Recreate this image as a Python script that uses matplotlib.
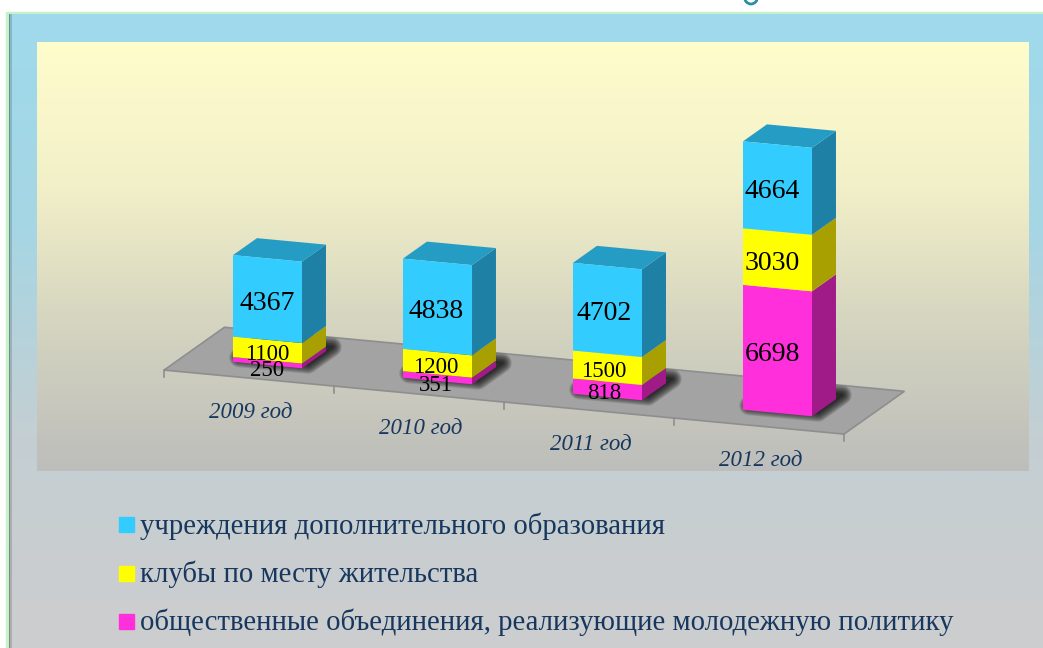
#!/usr/bin/env python3

import numpy as np
import matplotlib
matplotlib.use("Agg")
import matplotlib.pyplot as plt
from matplotlib.colors import LinearSegmentedColormap
from matplotlib.patches import Arc, Polygon, Rectangle
from matplotlib.transforms import Affine2D

years = ["2009 год", "2010 год", "2011 год", "2012 год"]
series_names = [
    "учреждения дополнительного образования",
    "клубы по месту жительства",
    "общественные объединения, реализующие молодежную политику",
]
education = [4367, 4838, 4702, 4664]
clubs = [1100, 1200, 1500, 3030]
associations = [250, 351, 818, 6698]

front_colors = ["#33CCFF", "#FFFF00", "#FF2FDC"]
side_colors = ["#1F80A5", "#A8A000", "#A01A88"]
top_color = "#259CC4"
text_color = "#17375E"

plt.rcParams["font.family"] = ["Liberation Serif", "DejaVu Serif"]

fig = plt.figure(figsize=(10.43, 6.48), dpi=100)
ax = fig.add_axes([0, 0, 1, 1])
ax.set_xlim(0, 1043)
ax.set_ylim(648, 0)
ax.axis("off")


def gradient(x0, x1, y0, y1, colors, z):
    cmap = LinearSegmentedColormap.from_list("g", colors)
    ax.imshow(np.linspace(0, 1, 256).reshape(-1, 1), cmap=cmap, aspect="auto",
              extent=(x0, x1, y1, y0), zorder=z, interpolation="bilinear")


# slide background and chart area
ax.add_patch(Rectangle((6, 12), 1037, 636, color="#C5F2C8", zorder=0))
gradient(9, 1043, 14, 648, ["#9FDAEC", "#A6D6E4", "#C4CFD3", "#CDCDCE"], 1)
ax.add_patch(Rectangle((9, 14), 1.2, 634, color="black", alpha=0.35, lw=0, zorder=1.5))
ax.add_patch(Rectangle((10.2, 14), 1.3, 634, color="black", alpha=0.15, lw=0, zorder=1.5))
gradient(37, 1029, 42, 471, ["#FFFDCC", "#F2F0C8", "#D4D4C0", "#BDBDBB"], 2)

# bottom of a letter cut off by the top edge of the slide
ax.add_patch(Arc((751, -3), 13, 14, theta1=0, theta2=180, color="#2E8CA8", lw=2, zorder=3))

# (category, value) to pixels, with a slanted floor
chart = Affine2D.from_values(170, 16, 0, -0.01865, 267.5, 365) + ax.transData
bar_w = 0.406
depth = np.array([0.141, 1032])


def shape(points, **kw):
    ax.add_patch(Polygon(points, closed=True, transform=chart, **kw))


# floor and its ticks
floor_front = np.array([[-0.5, 0], [3.5, 0]]) - 0.77 * depth
floor_back = np.array([[3.5, 0], [-0.5, 0]]) + 1.75 * depth
shape(np.vstack([floor_front, floor_back]), facecolor="#A3A3A3",
      edgecolor="#8E8E8E", linewidth=1.2, zorder=3)
for c in range(5):
    p = np.array([c - 0.5, 0]) - 0.77 * depth
    ax.plot([p[0], p[0]], [p[1], p[1] - 380], color="#8E8E8E", lw=1.2,
            transform=chart, zorder=3)

# soft shadows under the bars
for c in range(4):
    foot = np.array([[c - bar_w / 2, 0], [c + bar_w / 2, 0],
                     [c + bar_w / 2 + depth[0], depth[1]],
                     [c - bar_w / 2 + depth[0], depth[1]]]) + 0.25 * depth
    for lw in np.arange(14, 0, -1.5):
        shape(foot, facecolor="none", edgecolor="black", linewidth=lw,
              alpha=0.13, joinstyle="round", zorder=4)

# stacked bars, the last series of the legend sits at the bottom
stack_order = [2, 1, 0]
stack = [education, clubs, associations]
bottom = np.zeros(4)
for k in stack_order:
    vals = np.array(stack[k], dtype=float)
    ax.bar(range(4), vals, bottom=bottom, width=bar_w, color=front_colors[k],
           transform=chart, zorder=6)
    for c in range(4):
        r = c + bar_w / 2
        b0, b1 = bottom[c], bottom[c] + vals[c]
        shape([[r, b0], [r + depth[0], b0 + depth[1]],
               [r + depth[0], b1 + depth[1]], [r, b1]],
              facecolor=side_colors[k], edgecolor="none", zorder=5)
    bottom = bottom + vals
for c in range(4):
    l, r = c - bar_w / 2, c + bar_w / 2
    t = bottom[c]
    shape([[l, t], [r, t], [r + depth[0], t + depth[1]], [l + depth[0], t + depth[1]]],
          facecolor=top_color, edgecolor="none", zorder=5)

# value labels, the thinnest segments get theirs pushed down
bottom = np.zeros(4)
for k in stack_order:
    for c in range(4):
        v = stack[k][c]
        shift = 430 if v < 500 else 230
        ax.text(c * 0.99, bottom[c] + v / 2 - shift, str(v),
                transform=chart, ha="center", va="center",
                fontsize=16.5 if v < 2000 else 20, color="black", zorder=8)
    bottom = bottom + np.array(stack[k])

# category labels under the floor
for c in range(4):
    ax.text(c - 0.1, -2650, years[c], transform=chart, ha="center", va="center",
            fontsize=16.5, style="italic", color=text_color, zorder=8)

# legend
for k, row_y in enumerate([525, 573.5, 621.5]):
    ax.add_patch(Rectangle((119, row_y - 8), 15, 15, color=front_colors[k], zorder=8))
    ax.text(140, row_y + 1, series_names[k], ha="left", va="center", fontsize=20.7,
            color=text_color, zorder=8)

fig.savefig("out.png", dpi=100)
